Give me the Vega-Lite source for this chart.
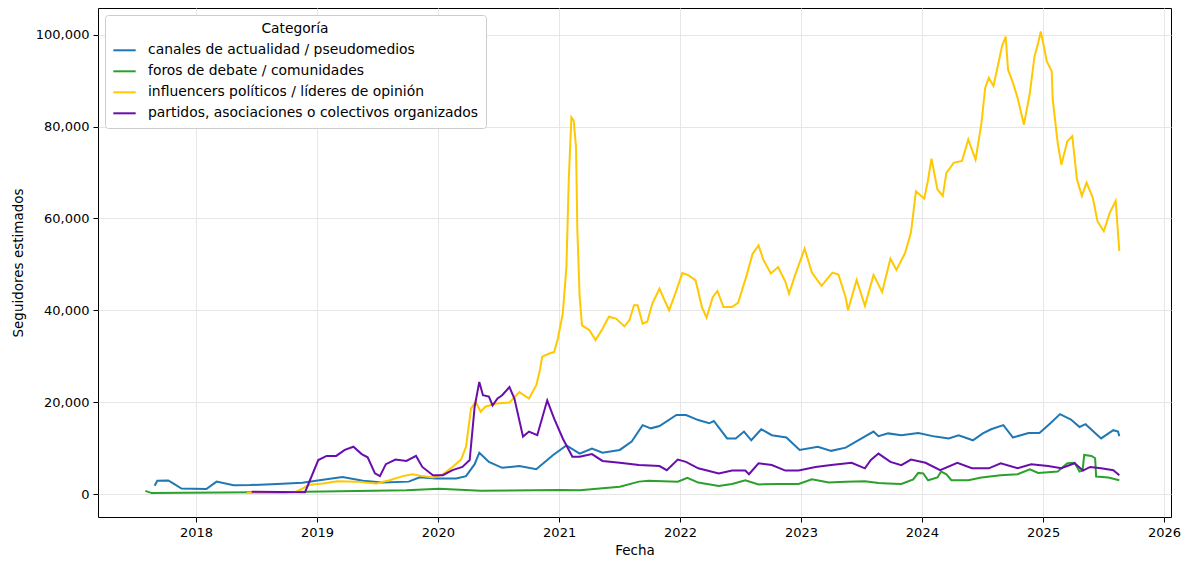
{
 "$schema": "https://vega.github.io/schema/vega-lite/v6.json",
 "width": 1073,
 "height": 509,
 "autosize": {"type": "none"},
 "padding": {"left": 98, "top": 8, "right": 21, "bottom": 45},
 "background": "white",
 "config": {
  "font": "DejaVu Sans",
  "view": {"stroke": "#000", "strokeWidth": 1},
  "axis": {"domain": false, "tickColor": "#000", "tickSize": 5, "labelColor": "#000", "labelFontSize": 13, "titleFontSize": 13.5, "titleFontWeight": "normal", "titleColor": "#000", "gridColor": "#e6e6e6", "labelPadding": 4},
  "legend": {"orient": "top-left", "offset": 7, "fillColor": "white", "strokeColor": "#cccccc", "cornerRadius": 3, "padding": 7, "titleAnchor": "middle", "titleFontWeight": "normal", "titleFontSize": 13.8, "titleColor": "#000", "titlePadding": 2, "labelFontSize": 13.9, "labelColor": "#000", "labelLimit": 0, "symbolType": "stroke", "symbolStrokeWidth": 2, "symbolSize": 500, "rowPadding": 1, "labelOffset": 11}
 },
 "datasets": {
  "canales": [
   {"d":"2017-08-29","v":1800},{"d":"2017-09-06","v":2900},{"d":"2017-10-09","v":2950},{"d":"2017-10-24","v":2300},{"d":"2017-11-18","v":1200},{"d":"2018-02-01","v":1100},{"d":"2018-03-04","v":2700},{"d":"2018-04-24","v":1900},{"d":"2018-06-14","v":1950},{"d":"2018-09-03","v":2200},{"d":"2018-11-18","v":2450},{"d":"2019-01-19","v":3100},{"d":"2019-03-19","v":3700},{"d":"2019-05-20","v":2900},{"d":"2019-07-17","v":2500},{"d":"2019-10-05","v":2700},{"d":"2019-11-07","v":3650},{"d":"2019-12-25","v":3400},{"d":"2020-02-25","v":3400},{"d":"2020-03-26","v":3900},{"d":"2020-04-21","v":6500},{"d":"2020-05-05","v":9000},{"d":"2020-06-03","v":7000},{"d":"2020-07-13","v":5700},{"d":"2020-09-03","v":6100},{"d":"2020-10-24","v":5400},{"d":"2020-12-14","v":8500},{"d":"2021-01-23","v":10600},{"d":"2021-03-04","v":8800},{"d":"2021-04-10","v":9900},{"d":"2021-05-12","v":9000},{"d":"2021-07-03","v":9600},{"d":"2021-08-08","v":11400},{"d":"2021-09-10","v":15000},{"d":"2021-10-05","v":14300},{"d":"2021-10-31","v":14800},{"d":"2021-12-21","v":17200},{"d":"2022-01-19","v":17200},{"d":"2022-02-25","v":16100},{"d":"2022-03-30","v":15400},{"d":"2022-04-13","v":15900},{"d":"2022-05-23","v":12100},{"d":"2022-06-18","v":12100},{"d":"2022-07-13","v":13600},{"d":"2022-08-04","v":11700},{"d":"2022-09-03","v":14100},{"d":"2022-10-05","v":12800},{"d":"2022-11-18","v":12300},{"d":"2022-12-28","v":9600},{"d":"2023-02-21","v":10300},{"d":"2023-04-02","v":9400},{"d":"2023-05-16","v":10100},{"d":"2023-07-03","v":12100},{"d":"2023-08-08","v":13600},{"d":"2023-08-23","v":12600},{"d":"2023-09-21","v":13200},{"d":"2023-10-31","v":12800},{"d":"2023-12-21","v":13300},{"d":"2024-02-10","v":12500},{"d":"2024-03-22","v":12100},{"d":"2024-04-21","v":12800},{"d":"2024-06-03","v":11700},{"d":"2024-07-03","v":13200},{"d":"2024-07-28","v":14100},{"d":"2024-09-03","v":15000},{"d":"2024-10-02","v":12300},{"d":"2024-11-18","v":13300},{"d":"2024-12-21","v":13300},{"d":"2025-01-23","v":15400},{"d":"2025-02-21","v":17400},{"d":"2025-03-26","v":16200},{"d":"2025-04-21","v":14600},{"d":"2025-05-09","v":15200},{"d":"2025-06-25","v":12100},{"d":"2025-08-01","v":13900},{"d":"2025-08-15","v":13600},{"d":"2025-08-19","v":12600}
  ],
  "foros": [
   {"d":"2017-08-01","v":700},{"d":"2017-08-20","v":200},{"d":"2018-10-09","v":430},{"d":"2019-09-28","v":800},{"d":"2020-01-05","v":1150},{"d":"2020-05-09","v":700},{"d":"2021-01-01","v":870},{"d":"2021-03-04","v":800},{"d":"2021-07-03","v":1600},{"d":"2021-08-30","v":2700},{"d":"2021-09-28","v":2900},{"d":"2021-12-25","v":2700},{"d":"2022-01-23","v":3550},{"d":"2022-02-25","v":2500},{"d":"2022-04-28","v":1750},{"d":"2022-06-07","v":2200},{"d":"2022-07-17","v":3000},{"d":"2022-08-26","v":2100},{"d":"2022-10-24","v":2200},{"d":"2022-12-25","v":2200},{"d":"2023-02-03","v":3200},{"d":"2023-03-26","v":2500},{"d":"2023-05-16","v":2700},{"d":"2023-07-13","v":2800},{"d":"2023-08-23","v":2400},{"d":"2023-09-21","v":2300},{"d":"2023-10-31","v":2200},{"d":"2023-12-06","v":3200},{"d":"2023-12-21","v":4600},{"d":"2024-01-05","v":4500},{"d":"2024-01-20","v":3000},{"d":"2024-02-17","v":3600},{"d":"2024-02-28","v":4900},{"d":"2024-03-15","v":4300},{"d":"2024-03-30","v":3000},{"d":"2024-05-20","v":3000},{"d":"2024-06-29","v":3600},{"d":"2024-08-26","v":4100},{"d":"2024-10-16","v":4300},{"d":"2024-11-22","v":5400},{"d":"2024-12-17","v":4600},{"d":"2025-02-14","v":4900},{"d":"2025-03-15","v":6700},{"d":"2025-04-06","v":6800},{"d":"2025-04-21","v":4900},{"d":"2025-04-30","v":5100},{"d":"2025-05-05","v":8500},{"d":"2025-05-27","v":8300},{"d":"2025-06-07","v":7800},{"d":"2025-06-10","v":3800},{"d":"2025-07-17","v":3600},{"d":"2025-08-19","v":3000}
  ],
  "influencers": [
   {"d":"2018-06-03","v":200},{"d":"2018-09-21","v":200},{"d":"2018-10-31","v":500},{"d":"2018-12-10","v":2000},{"d":"2019-01-19","v":2300},{"d":"2019-03-04","v":2800},{"d":"2019-04-28","v":2700},{"d":"2019-06-29","v":2300},{"d":"2019-08-08","v":3000},{"d":"2019-09-17","v":3900},{"d":"2019-10-16","v":4300},{"d":"2019-11-15","v":3900},{"d":"2019-12-17","v":3600},{"d":"2020-01-16","v":4300},{"d":"2020-02-14","v":5900},{"d":"2020-03-11","v":7500},{"d":"2020-03-26","v":10300},{"d":"2020-04-10","v":18600},{"d":"2020-04-24","v":20100},{"d":"2020-05-09","v":17900},{"d":"2020-05-23","v":19000},{"d":"2020-06-25","v":19700},{"d":"2020-08-04","v":19900},{"d":"2020-09-03","v":22200},{"d":"2020-10-02","v":20800},{"d":"2020-10-24","v":23700},{"d":"2020-11-04","v":27000},{"d":"2020-11-11","v":29900},{"d":"2020-12-06","v":30700},{"d":"2020-12-17","v":30900},{"d":"2020-12-28","v":33800},{"d":"2021-01-12","v":39300},{"d":"2021-01-23","v":49400},{"d":"2021-01-30","v":68300},{"d":"2021-02-07","v":82000},{"d":"2021-02-14","v":81300},{"d":"2021-02-21","v":75500},{"d":"2021-02-25","v":57400},{"d":"2021-03-04","v":42900},{"d":"2021-03-11","v":36700},{"d":"2021-04-02","v":35700},{"d":"2021-04-21","v":33500},{"d":"2021-05-12","v":36000},{"d":"2021-05-31","v":38600},{"d":"2021-06-22","v":38200},{"d":"2021-07-17","v":36500},{"d":"2021-08-01","v":37800},{"d":"2021-08-15","v":41100},{"d":"2021-08-26","v":41100},{"d":"2021-09-10","v":37100},{"d":"2021-09-24","v":37500},{"d":"2021-10-09","v":41400},{"d":"2021-10-31","v":44700},{"d":"2021-11-15","v":42200},{"d":"2021-11-29","v":40000},{"d":"2021-12-14","v":42900},{"d":"2022-01-08","v":48100},{"d":"2022-01-27","v":47600},{"d":"2022-02-17","v":46500},{"d":"2022-03-08","v":40700},{"d":"2022-03-22","v":38400},{"d":"2022-04-10","v":42900},{"d":"2022-04-24","v":44200},{"d":"2022-05-12","v":40700},{"d":"2022-06-07","v":40700},{"d":"2022-06-25","v":41600},{"d":"2022-07-21","v":47600},{"d":"2022-08-08","v":52300},{"d":"2022-08-26","v":54100},{"d":"2022-09-10","v":50900},{"d":"2022-10-02","v":48000},{"d":"2022-10-24","v":49400},{"d":"2022-11-15","v":46200},{"d":"2022-11-26","v":43600},{"d":"2022-12-14","v":47600},{"d":"2023-01-12","v":53400},{"d":"2023-02-03","v":48200},{"d":"2023-03-04","v":45300},{"d":"2023-04-06","v":48200},{"d":"2023-04-24","v":47800},{"d":"2023-05-16","v":42800},{"d":"2023-05-23","v":40000},{"d":"2023-06-18","v":46600},{"d":"2023-07-13","v":41000},{"d":"2023-08-08","v":47700},{"d":"2023-09-03","v":44000},{"d":"2023-09-28","v":51200},{"d":"2023-10-16","v":48800},{"d":"2023-11-11","v":52400},{"d":"2023-11-29","v":56900},{"d":"2023-12-14","v":65900},{"d":"2024-01-08","v":64300},{"d":"2024-01-19","v":68100},{"d":"2024-01-30","v":73000},{"d":"2024-02-17","v":66300},{"d":"2024-03-04","v":64900},{"d":"2024-03-15","v":69900},{"d":"2024-04-06","v":72100},{"d":"2024-05-01","v":72500},{"d":"2024-05-20","v":77200},{"d":"2024-06-11","v":72800},{"d":"2024-06-29","v":80800},{"d":"2024-07-10","v":88400},{"d":"2024-07-21","v":90600},{"d":"2024-08-04","v":88800},{"d":"2024-08-15","v":92400},{"d":"2024-08-30","v":97500},{"d":"2024-09-10","v":99600},{"d":"2024-09-17","v":92400},{"d":"2024-10-02","v":89500},{"d":"2024-10-16","v":86200},{"d":"2024-11-04","v":80400},{"d":"2024-11-22","v":87300},{"d":"2024-12-06","v":95300},{"d":"2024-12-17","v":98200},{"d":"2024-12-25","v":100700},{"d":"2025-01-12","v":94200},{"d":"2025-01-27","v":92000},{"d":"2025-01-30","v":85900},{"d":"2025-02-14","v":76400},{"d":"2025-02-25","v":71700},{"d":"2025-03-15","v":76800},{"d":"2025-03-30","v":77900},{"d":"2025-04-13","v":68500},{"d":"2025-04-28","v":64900},{"d":"2025-05-12","v":67800},{"d":"2025-05-31","v":64500},{"d":"2025-06-14","v":59400},{"d":"2025-07-03","v":57200},{"d":"2025-07-21","v":61200},{"d":"2025-08-08","v":63800},{"d":"2025-08-19","v":52900}
  ],
  "partidos": [
   {"d":"2018-06-18","v":500},{"d":"2018-11-26","v":400},{"d":"2019-01-05","v":7400},{"d":"2019-01-30","v":8300},{"d":"2019-02-28","v":8300},{"d":"2019-03-26","v":9600},{"d":"2019-04-21","v":10300},{"d":"2019-05-16","v":8700},{"d":"2019-06-03","v":8000},{"d":"2019-06-25","v":4500},{"d":"2019-07-10","v":3900},{"d":"2019-07-28","v":6500},{"d":"2019-08-26","v":7500},{"d":"2019-09-28","v":7200},{"d":"2019-10-27","v":8300},{"d":"2019-11-15","v":5900},{"d":"2019-12-17","v":4100},{"d":"2020-01-16","v":4100},{"d":"2020-02-14","v":5200},{"d":"2020-03-15","v":5900},{"d":"2020-04-06","v":7400},{"d":"2020-04-21","v":19000},{"d":"2020-05-05","v":24400},{"d":"2020-05-16","v":21500},{"d":"2020-06-03","v":21200},{"d":"2020-06-14","v":19300},{"d":"2020-06-29","v":20800},{"d":"2020-07-13","v":21500},{"d":"2020-08-04","v":23300},{"d":"2020-08-19","v":20800},{"d":"2020-09-14","v":12500},{"d":"2020-10-02","v":13600},{"d":"2020-10-27","v":12800},{"d":"2020-11-26","v":20400},{"d":"2020-12-17","v":16400},{"d":"2021-01-12","v":12100},{"d":"2021-02-10","v":8100},{"d":"2021-03-04","v":8100},{"d":"2021-04-10","v":8700},{"d":"2021-05-12","v":7200},{"d":"2021-07-03","v":6800},{"d":"2021-08-30","v":6300},{"d":"2021-10-31","v":6100},{"d":"2021-11-22","v":5200},{"d":"2021-12-25","v":7500},{"d":"2022-01-19","v":7000},{"d":"2022-02-25","v":5600},{"d":"2022-04-28","v":4500},{"d":"2022-06-07","v":5100},{"d":"2022-07-17","v":5100},{"d":"2022-07-28","v":4300},{"d":"2022-08-26","v":6700},{"d":"2022-10-05","v":6300},{"d":"2022-11-15","v":5100},{"d":"2022-12-25","v":5100},{"d":"2023-02-14","v":5900},{"d":"2023-04-02","v":6300},{"d":"2023-06-03","v":6800},{"d":"2023-07-13","v":5600},{"d":"2023-07-31","v":7400},{"d":"2023-08-23","v":8800},{"d":"2023-09-28","v":7000},{"d":"2023-10-31","v":6300},{"d":"2023-11-29","v":7500},{"d":"2024-01-12","v":6800},{"d":"2024-02-25","v":5200},{"d":"2024-04-17","v":6800},{"d":"2024-05-31","v":5600},{"d":"2024-07-21","v":5600},{"d":"2024-08-26","v":6700},{"d":"2024-10-16","v":5600},{"d":"2024-11-26","v":6500},{"d":"2025-01-16","v":6100},{"d":"2025-02-25","v":5600},{"d":"2025-04-06","v":6700},{"d":"2025-05-01","v":5100},{"d":"2025-05-23","v":5900},{"d":"2025-06-25","v":5600},{"d":"2025-08-01","v":5200},{"d":"2025-08-19","v":4100}
  ]
 },
 "encoding": {
  "x": {"field": "d", "type": "temporal", "title": "Fecha", "scale": {"domain": [{"year": 2017, "month": 3, "date": 11}, {"year": 2026, "month": 1, "date": 22}]}, "axis": {"tickCount": {"interval": "year", "step": 1}, "format": "%Y", "grid": true}},
  "y": {"field": "v", "type": "quantitative", "title": "Seguidores estimados", "scale": {"domain": [-5000, 105800], "nice": false, "zero": false}, "axis": {"values": [0, 20000, 40000, 60000, 80000, 100000], "format": ",d", "grid": true, "titlePadding": 10}}
 },
 "layer": [
  {"data": {"name": "canales"}, "mark": {"type": "line", "strokeWidth": 2}, "encoding": {"color": {"datum": "canales de actualidad / pseudomedios", "title": "Categoría", "scale": {"domain": ["canales de actualidad / pseudomedios", "foros de debate / comunidades", "influencers políticos / líderes de opinión", "partidos, asociaciones o colectivos organizados"], "range": ["#1f77b4", "#2ca02c", "#ffc800", "#6a0dad"]}}}},
  {"data": {"name": "foros"}, "mark": {"type": "line", "strokeWidth": 2}, "encoding": {"color": {"datum": "foros de debate / comunidades"}}},
  {"data": {"name": "influencers"}, "mark": {"type": "line", "strokeWidth": 2}, "encoding": {"color": {"datum": "influencers políticos / líderes de opinión"}}},
  {"data": {"name": "partidos"}, "mark": {"type": "line", "strokeWidth": 2}, "encoding": {"color": {"datum": "partidos, asociaciones o colectivos organizados"}}}
 ]
}
